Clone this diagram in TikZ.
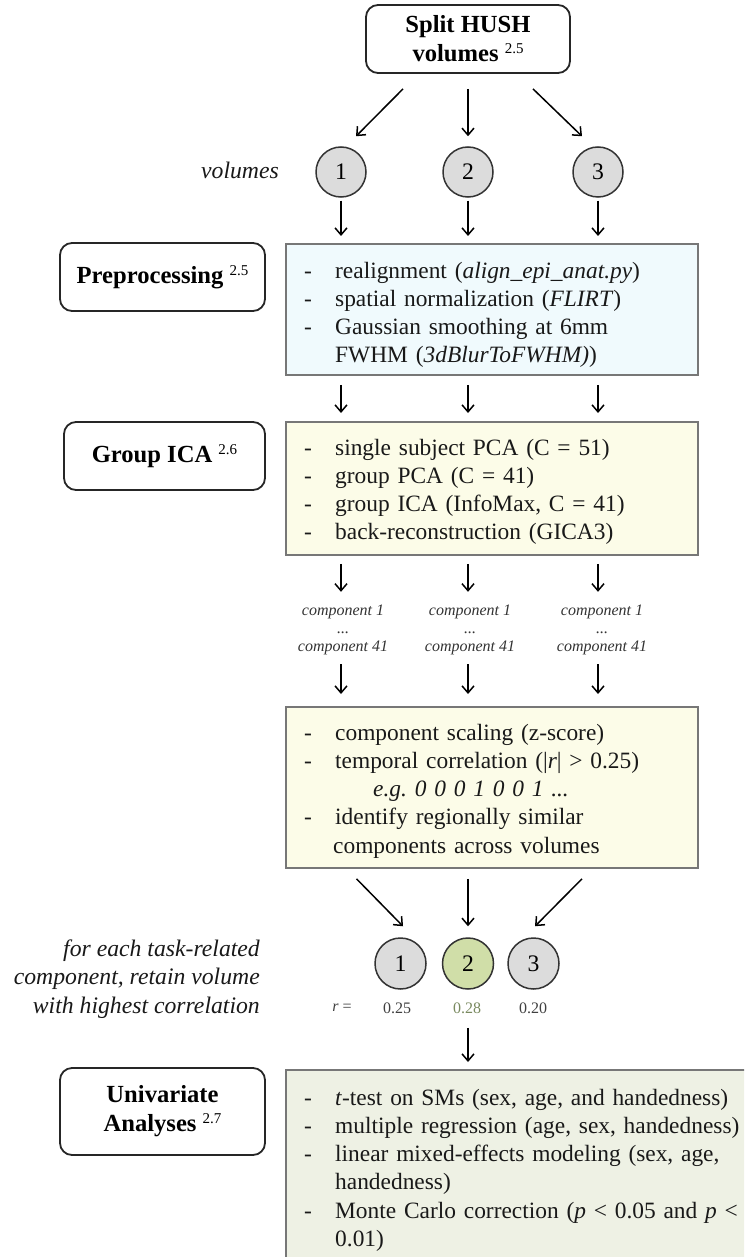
\documentclass[tikz,border=0pt]{standalone}
\usepackage{fontspec}
\setmainfont{Liberation Serif}
\usetikzlibrary{arrows.meta,calc}
\definecolor{bluefill}{HTML}{F0FAFD}
\definecolor{yelfill}{HTML}{FCFCE8}
\definecolor{grnfill}{HTML}{EEF1E4}
\definecolor{circgray}{HTML}{DCDCDC}
\definecolor{circgrn}{HTML}{D0DEA8}
\definecolor{boxedge}{HTML}{777777}
\definecolor{rgreen}{HTML}{7A8A60}
\newcommand\secnum[1]{{\mdseries\fontsize{15}{15}\selectfont\raisebox{8pt}{#1}}}
\newcommand\dashitem{\makebox[31pt][l]{-}}
\tikzset{
  lbl/.style={draw=black!85, line width=1.8pt, rounded corners=12pt, fill=white,
    minimum width=205pt, align=center, inner sep=0pt,
    font=\bfseries\fontsize{24.6}{29}\selectfont},
  listbox/.style={draw=boxedge, line width=1.8pt, minimum width=412pt,
    anchor=north west, inner sep=0pt},
  listtxt/.style={anchor=base west, text width=450pt, align=left, inner sep=0pt,
    font=\fontsize{23.4}{28.3}\selectfont, text=black!90},
  vcirc/.style={circle, draw=black!80, line width=1.5pt, fill=circgray,
    minimum size=50pt, inner sep=0pt, font=\fontsize{23.7}{24}\selectfont},
  arr/.style={line width=1.5pt, -{Straight Barb[length=7pt,width=12pt]}},
  comp/.style={align=center, inner sep=0pt, text=black!80,
    font=\itshape\fontsize{16}{18}\selectfont},
  rlbl/.style={inner sep=0pt, text=black!75, font=\fontsize{16}{18}\selectfont},
  note/.style={inner sep=0pt, font=\itshape\fontsize{23.7}{28.5}\selectfont, text=black!90},
}
\begin{document}
\begin{tikzpicture}[x=1pt,y=-1pt]
\useasboundingbox (0,0) rectangle (744,1257);
\clip (0,0) rectangle (744,1257);
\fill[white] (0,0) rectangle (744,1257);

% top box and circles
\node[lbl, minimum width=204pt, minimum height=68pt] (split) at (468,39) {Split HUSH\\volumes \secnum{2.5}};
\node[vcirc] (v1) at (341,172) {1};
\node[vcirc] (v2) at (468,172) {2};
\node[vcirc] (v3) at (598,172) {3};
\node[note, anchor=base east] (vollbl) at (279,179) {volumes};
\draw[arr] ($(split.south)+(-65,15)$) -- ($(v1.north)+(15,-10)$);
\draw[arr] ($(split.south)+(0,15)$) -- ($(v2.north)+(0,-10)$);
\draw[arr] ($(split.south)+(65,15)$) -- ($(v3.north)+(-16,-10)$);

% preprocessing
\node[lbl, minimum height=68pt] (prelbl) at (162.5,277) {Preprocessing \secnum{2.5}};
\node[listbox, fill=bluefill, minimum height=131pt] (pre) at (285,243) {};
\node[listtxt] (pretxt) at (304,278) {\dashitem realignment (\textit{align\_epi\_anat.py})\\
\dashitem spatial normalization (\textit{FLIRT})\\
\dashitem Gaussian smoothing at 6mm\\
\hspace*{31pt}FWHM (\textit{3dBlurToFWHM)})};
\foreach \c in {v1,v2,v3}{
  \draw[arr] ($(\c.south)+(0,3)$) -- ($(\c |- pre.north)+(0,-7)$);
}

% group ICA
\node[lbl, minimum width=201pt, minimum height=68pt] (icalbl) at (164.5,456) {Group ICA \secnum{2.6}};
\node[listbox, fill=yelfill, minimum height=133pt] (ica) at (285,421) {};
\node[listtxt] (icatxt) at (304,455) {\dashitem single subject PCA (C = 51)\\
\dashitem group PCA (C = 41)\\
\dashitem group ICA (InfoMax, C = 41)\\
\dashitem back-reconstruction (GICA3)};
\foreach \c in {v1,v2,v3}{
  \draw[arr] ($(\c |- pre.south)+(0,9)$) -- ($(\c |- ica.north)+(0,-8)$);
}

% component labels
\node[comp] (k1) at (343,630) {component 1\\...\\component 41};
\node[comp] (k2) at (470,630) {component 1\\...\\component 41};
\node[comp] (k3) at (602,630) {component 1\\...\\component 41};
\foreach \c/\k in {v1/k1,v2/k2,v3/k3}{
  \draw[arr] ($(\c |- ica.south)+(0,8)$) -- ($(\c |- k1.north)+(0,-13)$);
}

% correlation box
\node[listbox, fill=yelfill, minimum height=161pt] (cor) at (285,706) {};
\node[listtxt] (cortxt) at (304,740) {\dashitem component scaling (z-score)\\
\dashitem temporal correlation (|\textit{r}| > 0.25)\\
\hspace*{69pt}\textit{e.g.\ 0 0 0 1 0 0 1 ...}\\
\dashitem identify regionally similar\\
\hspace*{29pt}components across volumes};
\foreach \c in {v1,v2,v3}{
  \draw[arr] ($(\c |- k1.south)+(0,9)$) -- ($(\c |- cor.north)+(0,-12)$);
}

% selection circles
\node[vcirc, minimum size=51pt] (w1) at (400.5,963.5) {1};
\node[vcirc, minimum size=51pt, fill=circgrn] (w2) at (468,963.5) {2};
\node[vcirc, minimum size=51pt] (w3) at (533.5,963.5) {3};
\draw[arr] ($(cor.south -| w1)+(-44,10)$) -- ($(w1.north)+(2.5,-11)$);
\draw[arr] ($(cor.south -| w2)+(0,10)$) -- ($(w2.north)+(0,-11)$);
\draw[arr] ($(cor.south -| w3)+(48.5,10)$) -- ($(w3.north)+(1.5,-11)$);
\node[note, align=right, anchor=east] (selnote) at (260,979) {for each task-related\\component, retain volume\\with highest correlation};
\node[rlbl] (r0) at (342,1008) {\textit{r} =};
\node[rlbl] (r1) at (397,1008) {0.25};
\node[rlbl, text=rgreen] (r2) at (467,1008) {0.28};
\node[rlbl] (r3) at (533,1008) {0.20};

% univariate
\node[lbl, minimum height=87pt] (unilbl) at (162.5,1111.5) {Univariate\\Analyses \secnum{2.7}};
\node[listbox, fill=grnfill, minimum width=480pt, minimum height=220pt] (uni) at (285,1069) {};
\node[listtxt] (unitxt) at (304,1105) {\dashitem \textit{t}-test on SMs (sex, age, and handedness)\\
\dashitem multiple regression (age, sex, handedness)\\
\dashitem linear mixed-effects modeling (sex, age,\\
\hspace*{31pt}handedness)\\
\dashitem Monte Carlo correction (\textit{p} < 0.05 and \textit{p} <\\
\hspace*{31pt}0.01)};
\draw[arr] ($(w2.south)+(0,38)$) -- ($(w2 |- uni.north)+(0,-7)$);
\end{tikzpicture}
\end{document}
